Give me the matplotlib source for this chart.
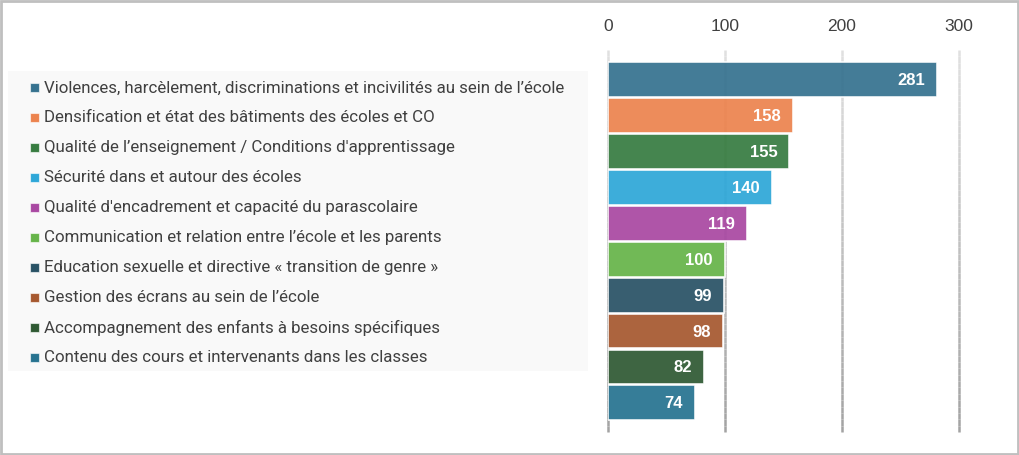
import numpy as np
import matplotlib
matplotlib.use("Agg")
import matplotlib.pyplot as plt
from matplotlib.collections import LineCollection
from matplotlib.patches import Rectangle

categories = [
    "Violences, harcèlement, discriminations et incivilités au sein de l’école",
    "Densification et état des bâtiments des écoles et CO",
    "Qualité de l’enseignement / Conditions d'apprentissage",
    "Sécurité dans et autour des écoles",
    "Qualité d'encadrement et capacité du parascolaire",
    "Communication et relation entre l’école et les parents",
    "Education sexuelle et directive « transition de genre »",
    "Gestion des écrans au sein de l’école",
    "Accompagnement des enfants à besoins spécifiques",
    "Contenu des cours et intervenants dans les classes",
]
values = [281, 158, 155, 140, 119, 100, 99, 98, 82, 74]
colors = ["#36728f", "#ec834e", "#377c41", "#2ea7d8", "#a948a2",
          "#66b449", "#295265", "#a6582f", "#2f5933", "#277390"]
ticks = [0, 100, 200, 300]

W, H = 1020, 456
fig = plt.figure(figsize=(W / 100, H / 100), dpi=100)
fig.patch.set_facecolor("white")

# outer border
fig.patches.append(Rectangle((1 / W, 1 / H), 1 - 3 / W, 1 - 3 / H, transform=fig.transFigure,
                             fill=False, edgecolor="#bfbfbf", linewidth=2))

# bar chart
ax = fig.add_axes([608 / W, (H - 433) / H, (959 - 608) / W, (433 - 51) / H])
ax.set_xlim(0, 300)
ax.set_ylim(9.81, -0.82)
for s in ax.spines.values():
    s.set_visible(False)
ax.set_facecolor("none")
ax.xaxis.tick_top()
ax.set_xticks(ticks)
ax.set_xticklabels([str(t) for t in ticks], fontsize=12.5, color="#404040", family="Liberation Sans")
ax.tick_params(axis="x", length=0, pad=12)
ax.set_yticks([])

# gridlines with vertical gradient
n = 60
ys = np.linspace(-0.82, 9.81, n + 1)
for t in ticks:
    segs = [[(t, ys[k]), (t, ys[k + 1])] for k in range(n)]
    shade = np.linspace(0.88, 0.64, n)
    lc = LineCollection(segs, colors=[(g, g, g) for g in shade], linewidths=1.8, zorder=1)
    lc.set_clip_on(False)
    ax.add_collection(lc)

y = np.arange(len(values))
ax.barh(y, values, height=0.97, color=colors, alpha=0.93,
        edgecolor=(1, 1, 1, 0.55), linewidth=1.2, zorder=2)
for i, v in enumerate(values):
    ax.annotate(str(v), (v, i), xytext=(-12, 0), textcoords="offset pixels",
                ha="right", va="center", color="white", fontsize=12,
                fontweight="bold", family="Liberation Sans", zorder=4)

# legend panel
lax = fig.add_axes([8 / W, (H - 372) / H, (588 - 8) / W, (372 - 72) / H])
lax.set_xlim(0, 580)
lax.set_ylim(300, 0)
lax.axis("off")
lax.add_patch(Rectangle((0, 0), 580, 300, facecolor="#f9f9f9", edgecolor="none"))
for i, (c, lab) in enumerate(zip(categories, colors)):
    yc = 16 + i * 30
    lax.add_patch(Rectangle((22, yc - 4.5), 9, 9, facecolor=lab, edgecolor=(1, 1, 1, 0.6), linewidth=0.8))
    lax.text(36, yc, c, ha="left", va="center", fontsize=12.2, color="#404040", family="Roboto")

fig.savefig("out.png", dpi=100)
